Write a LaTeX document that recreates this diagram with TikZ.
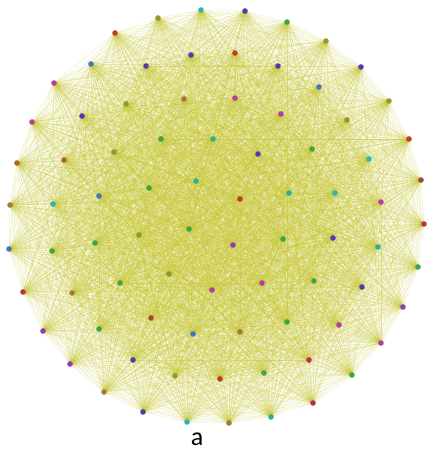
\documentclass[tikz,border=0pt]{standalone}
\usepackage{fontspec}
\setmainfont{Carlito}
\usetikzlibrary{backgrounds}
\definecolor{cCyan}{HTML}{2BB3BF}
\definecolor{cIndigo}{HTML}{4B3DB0}
\definecolor{cGreen}{HTML}{3FA444}
\definecolor{cOlive}{HTML}{8C9A30}
\definecolor{cRed}{HTML}{C0392B}
\definecolor{cBrRed}{HTML}{A0483A}
\definecolor{cPurple}{HTML}{8E3CB8}
\definecolor{cMagenta}{HTML}{B23FA0}
\definecolor{cTeal}{HTML}{2FAF98}
\definecolor{cBrown}{HTML}{A07840}
\definecolor{cBlue}{HTML}{3A78C2}
\definecolor{cOrange}{HTML}{B0602E}
\definecolor{cRedMag}{HTML}{B8304E}
\definecolor{edgecol}{HTML}{C4C430}
\tikzset{
  vert/.style={circle, inner sep=0pt, minimum size=5.6pt},
  edgeline/.style={draw=edgecol, line width=0.25pt, opacity=0.4},
}
\begin{document}
\begin{tikzpicture}[x=1pt,y=-1pt]
\useasboundingbox (0,0) rectangle (427,452);
\foreach \px/\py/\cc [count=\i] in {
201/10/cCyan, 245/11/cIndigo, 287/22/cGreen, 326/41/cOlive, 361/67/cIndigo,
389/101/cOlive, 409/139/cRed, 421/180/cBrRed, 424/224/cRedMag, 418/267/cGreen,
403/307/cPurple, 381/343/cMagenta, 352/375/cGreen, 313/403/cRedMag, 271/417/cTeal,
229/423/cBrown, 187/422/cCyan, 143/412/cIndigo, 104/392/cBrown, 70/364/cPurple,
43/331/cPurple, 23/292/cRedMag, 9/249/cBlue, 10/205/cBrown, 17/163/cOrange,
32/122/cMagenta, 54/83/cMagenta, 91/64/cBlue, 115/33/cRed, 158/18/cOlive,
235/53/cRed, 191/55/cIndigo, 146/66/cIndigo, 278/66/cIndigo, 319/87/cBlue,
235/98/cMagenta, 184/99/cBrown, 126/104/cOlive, 82/116/cIndigo, 281/114/cMagenta,
347/120/cOlive, 161/139/cGreen, 213/139/cTeal, 64/160/cOrange, 114/152/cOlive,
312/149/cGreen, 258/154/cIndigo, 369/159/cCyan, 196/181/cTeal, 149/188/cGreen,
99/196/cBlue, 53/204/cCyan, 240/199/cRed, 289/193/cTeal, 335/193/cCyan,
381/202/cMagenta, 139/235/cOlive, 189/229/cGreen, 233/245/cPurple, 283/239/cGreen,
333/238/cIndigo, 378/247/cTeal, 95/243/cGreen, 52/251/cGreen, 169/274/cOlive,
120/283/cGreen, 72/293/cBrown, 212/290/cMagenta, 262/283/cMagenta, 314/281/cGreen,
362/287/cIndigo, 151/318/cBrRed, 99/329/cGreen, 193/334/cBlue, 287/322/cGreen,
339/325/cMagenta, 240/332/cBrown, 133/360/cIndigo, 175/376/cOlive, 309/360/cRedMag,
264/373/cGreen, 220/379/cRed}
  {\node[vert, fill=\cc] (n\i) at (\px,\py) {};}
\begin{pgfonlayer}{background}
\foreach \i in {1,...,81}{
  \pgfmathtruncatemacro\kk{\i+1}
  \foreach \j in {\kk,...,82}{\draw[edgeline] (n\i.center) -- (n\j.center);}
}
\end{pgfonlayer}
\node[inner sep=0pt, anchor=base] (lbl) at (197,445) {\fontsize{26}{28}\selectfont a};
\end{tikzpicture}
\end{document}
